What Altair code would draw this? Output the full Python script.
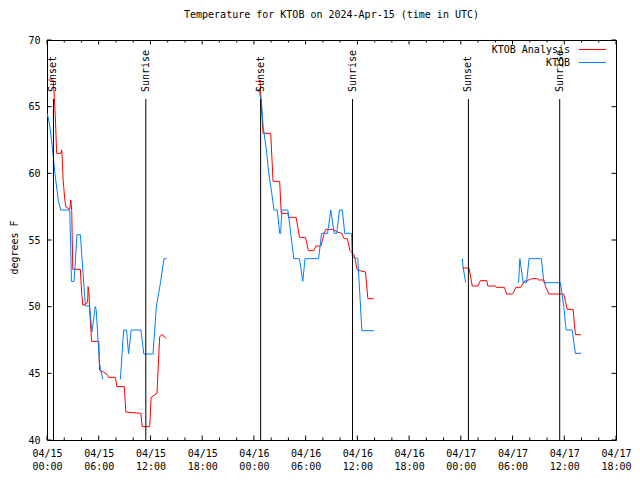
import json
import altair as alt
import pandas as pd

FONT = "DejaVu Sans Mono"
TITLE = "Temperature for KTOB on 2024-Apr-15 (time in UTC)"
Y_TITLE = "degrees F"
SERIES = ["KTOB Analysis", "KTOB"]
COLORS = ["#ff0000", "#0080ff"]

# hours since 2024-04-15 00:00 UTC
ANALYSIS_HOURS = [0.15, 0.69, 0.80, 0.98, 1.12, 1.61, 1.72, 1.87, 2.07, 2.18, 2.64, 2.76, 2.87, 2.99,
                  3.87, 4.02, 4.17, 4.71, 4.77, 4.89, 4.94, 5.17, 6.01, 6.09, 6.55, 7.01, 7.13, 7.93,
                  8.11, 8.97, 9.14, 10.89, 11.04, 11.92, 12.07, 12.76, 12.94, 13.07, 13.34, 13.57, 13.83,
                  24.18, 24.49, 24.72, 24.87, 25.07, 25.95, 26.22, 26.99, 27.17, 27.94, 28.02, 28.89,
                  29.29, 29.98, 30.32, 30.93, 31.19, 31.77, 32.16, 32.34, 33.11, 33.69, 34.18, 34.46,
                  34.84, 35.15, 35.61, 35.99, 36.94, 37.22, 37.91,
                  48.18, 48.95, 49.33, 49.98, 50.28, 51.02, 51.13, 52.01, 52.09, 53.04, 53.32, 54.01,
                  54.39, 54.96, 55.34, 56.11, 56.23, 56.88, 57.00, 57.64, 57.84, 58.22, 59.94, 60.13,
                  60.33, 61.02, 61.29, 61.94]
ANALYSIS_TEMPS = [67.0, 67.0, 66.3, 64.0, 61.5, 61.5, 61.75, 59.5, 58.0, 57.5, 57.3, 58.0, 57.2, 52.8,
                  52.8, 51.0, 50.1, 50.3, 51.5, 50.8, 49.9, 47.4, 47.4, 45.25, 45.1, 44.9, 44.7, 44.7,
                  44.0, 44.0, 42.1, 42.0, 41.0, 41.0, 43.2, 43.5, 46.0, 47.75, 47.9, 47.8, 47.6,
                  66.9, 66.9, 67.0, 65.0, 63.0, 63.0, 59.4, 59.4, 57.0, 57.0, 56.7, 56.7,
                  55.2, 55.2, 54.2, 54.2, 54.55, 54.55, 55.5, 55.8, 55.8, 55.6, 55.5, 55.1,
                  55.1, 54.2, 53.9, 52.75, 52.6, 50.6, 50.6,
                  52.9, 52.9, 51.55, 51.55, 51.95, 51.95, 51.55, 51.55, 51.45, 51.45, 50.95, 50.95,
                  51.45, 51.45, 51.9, 52.05, 52.1, 52.1, 52.0, 52.0, 51.5, 50.95, 50.95, 50.4,
                  49.8, 49.8, 47.9, 47.9]

OBS_HOURS = [0.03, 0.34, 0.69, 0.92, 1.30, 1.58, 2.64, 2.84, 3.14, 3.48, 3.87, 4.37, 4.48, 4.94,
             5.21, 5.60, 5.70, 6.09, 6.47, 8.51, 8.89, 9.23, 9.46, 9.77, 10.89, 11.23, 12.30, 12.68,
             13.19, 13.57, 13.88,
             24.18, 24.57, 24.87, 25.07, 25.45, 25.72, 26.02, 26.33, 26.71, 26.99, 27.10, 27.25,
             27.94, 28.32, 28.63, 29.29, 29.67, 29.93, 31.50, 31.85, 32.54, 32.92, 33.31, 33.61,
             33.92, 34.26, 34.53, 35.33, 35.41, 36.05, 36.28, 36.52, 37.91,
             48.18, 48.26, 48.56, 54.70, 54.85, 55.23, 55.62, 55.92, 57.34, 57.64, 59.56, 59.94,
             60.22, 60.91, 61.29, 61.94]
OBS_TEMPS = [64.5, 63.5, 61.5, 60.0, 58.0, 57.25, 57.25, 51.9, 51.9, 55.4, 55.4, 50.75, 50.05, 50.05,
             48.1, 50.0, 49.8, 45.75, 44.55, 44.55, 48.25, 48.25, 46.45, 48.25, 48.25, 46.45, 46.45, 50.0,
             51.9, 53.6, 53.6,
             66.25, 66.25, 65.4, 63.5, 61.75, 60.0, 58.75, 57.25, 57.25, 55.5, 55.5, 57.25,
             57.25, 55.25, 53.6, 53.6, 51.9, 53.6, 53.6, 55.5, 55.5, 57.25, 55.5, 55.5,
             57.25, 57.25, 55.5, 55.5, 53.75, 53.6, 51.0, 48.2, 48.2,
             53.6, 53.0, 51.8, 51.8, 53.6, 51.8, 51.8, 53.6, 53.6, 51.8, 51.8, 50.0,
             48.25, 48.25, 46.5, 46.5]

EVENT_HOURS = [0.75, 11.46, 24.78, 35.44, 48.88, 59.47]
EVENT_LABELS = ["Sunset", "Sunrise", "Sunset", "Sunrise", "Sunset", "Sunrise"]

X_TICK_HOURS = [0, 6, 12, 18, 24, 30, 36, 42, 48, 54, 60, 66]
X_TICK_DATES = ["04/15", "04/15", "04/15", "04/15", "04/16", "04/16", "04/16", "04/16",
                "04/17", "04/17", "04/17", "04/17"]
X_TICK_TIMES = ["00:00", "06:00", "12:00", "18:00", "00:00", "06:00", "12:00", "18:00",
                "00:00", "06:00", "12:00", "18:00"]
X_MINOR_HOURS = [2, 4, 8, 10, 14, 16, 20, 22, 26, 28, 32, 34, 38, 40, 44, 46, 50, 52, 56, 58, 62, 64]
Y_TICKS = [40, 45, 50, 55, 60, 65, 70]

W, H = 569, 400
MAJ, MIN = 4.5, 2.5


def segments(name, hours, temps):
    rows, seg, prev = [], 0, None
    for h, t in zip(hours, temps):
        if prev is not None and h - prev > 2:
            seg += 1
        rows.append({"hour": h, "temp": t, "series": name, "seg": f"{name}-{seg}"})
        prev = h
    return pd.DataFrame(rows)


df_a = segments(SERIES[0], ANALYSIS_HOURS, ANALYSIS_TEMPS)
df_o = segments(SERIES[1], OBS_HOURS, OBS_TEMPS)
events = pd.DataFrame({"hour": EVENT_HOURS, "label": EVENT_LABELS})
major_ticks = pd.DataFrame({"hour": X_TICK_HOURS})
minor_ticks = pd.DataFrame({"hour": X_MINOR_HOURS})
y_ticks = pd.DataFrame({"temp": Y_TICKS})
legend_df = pd.DataFrame({"series": SERIES})

label_expr = ("[" + json.dumps(X_TICK_DATES) + "[indexof(" + json.dumps(X_TICK_HOURS) + ", datum.value)], "
              + json.dumps(X_TICK_TIMES) + "[indexof(" + json.dumps(X_TICK_HOURS) + ", datum.value)]]")

x_scale = alt.Scale(domain=[0, 66], nice=False, zero=False)
y_scale = alt.Scale(domain=[40, 70], nice=False, zero=False)

x_axis = alt.Axis(values=X_TICK_HOURS, labelExpr=label_expr, ticks=False, domain=False, grid=False,
                  labelBaseline="top", labelPadding=8, labelLineHeight=13, labelFont=FONT,
                  labelFontSize=10, labelColor="black", labelFlush=False, labelOverlap=False,
                  title=None)
y_axis = alt.Axis(values=Y_TICKS, ticks=False, domain=False, grid=False, labelPadding=7,
                  labelFont=FONT, labelFontSize=10, labelColor="black", labelFlush=False,
                  labelOverlap=False, title=Y_TITLE, titleFont=FONT, titleFontSize=10,
                  titleFontWeight="normal", titleColor="black", titleX=-33, titleY=207,
                  titleAngle=270, titleAlign="center", titleBaseline="middle")

X = alt.X("hour:Q", scale=x_scale, axis=x_axis)
Y = alt.Y("temp:Q", scale=y_scale, axis=y_axis)

layers = []
for name, color, d in [(SERIES[0], COLORS[0], df_a), (SERIES[1], COLORS[1], df_o)]:
    layers.append(alt.Chart(d).mark_line(color=color, strokeWidth=1).encode(x=X, y=Y, detail="seg:N"))

layers.append(alt.Chart(events).mark_rule(color="black", strokeWidth=1).encode(
    x=X, y=alt.value(59), y2=alt.value(H)))
layers.append(alt.Chart(events).mark_text(angle=270, align="left", baseline="middle", font=FONT,
                                          fontSize=10, color="black").encode(
    x=X, y=alt.value(52), text="label:N"))

# inward ticks (gnuplot style)
for d, ln in [(major_ticks, MAJ), (minor_ticks, MIN)]:
    layers.append(alt.Chart(d).mark_rule(color="black", strokeWidth=1).encode(
        x=X, y=alt.value(H), y2=alt.value(H - ln)))
    layers.append(alt.Chart(d).mark_rule(color="black", strokeWidth=1).encode(
        x=X, y=alt.value(0), y2=alt.value(ln)))
layers.append(alt.Chart(y_ticks).mark_rule(color="black", strokeWidth=1).encode(
    y=Y, x=alt.value(0), x2=alt.value(MAJ)))
layers.append(alt.Chart(y_ticks).mark_rule(color="black", strokeWidth=1).encode(
    y=Y, x=alt.value(W), x2=alt.value(W - MAJ)))

# gnuplot-style key
for i, (name, color) in enumerate(zip(SERIES, COLORS)):
    yy = 9.5 + 13 * i
    layers.append(alt.Chart(legend_df).transform_filter(alt.datum.series == name).mark_text(
        align="right", baseline="middle", font=FONT, fontSize=10, color="black").encode(
        text="series:N", x=alt.value(W - 46), y=alt.value(yy)))
    layers.append(alt.Chart(legend_df).transform_filter(alt.datum.series == name).mark_rule(
        color=color, strokeWidth=1).encode(x=alt.value(W - 37), x2=alt.value(W - 10), y=alt.value(yy)))

chart = alt.layer(*layers).properties(
    width=W, height=H,
    title=alt.TitleParams(TITLE, font=FONT, fontSize=10, fontWeight="normal", color="black",
                          anchor="middle", offset=15),
    autosize=alt.AutoSizeParams(type="none"),
    padding={"left": 39, "top": 32, "right": 16, "bottom": 32},
).configure_view(stroke="black", strokeWidth=1)

chart.save("out.html", embed_options={"renderer": "svg", "actions": False})
